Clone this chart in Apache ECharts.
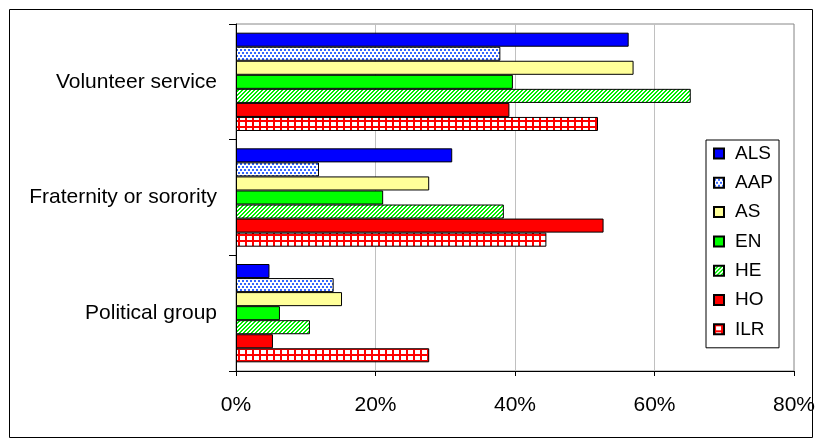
<!DOCTYPE html>
<html><head><meta charset="utf-8">
<script src="https://cdn.jsdelivr.net/npm/echarts@6/dist/echarts.min.js"></script>
<style>html,body{margin:0;padding:0;background:#fff}#c{width:818px;height:440px}</style>
</head><body><div id="c"></div>
<script>
const categories = ['Volunteer service', 'Fraternity or sorority', 'Political group'];
const seriesNames = ['ALS', 'AAP', 'AS', 'EN', 'HE', 'HO', 'ILR'];
const ALS = [56.3, 31.0, 4.8];
const AAP = [37.9, 11.9, 14.0];
const AS  = [57.0, 27.7, 15.2];
const EN  = [39.7, 21.1, 6.3];
const HE  = [65.2, 38.4, 10.6];
const HO  = [39.2, 52.7, 5.3];
const ILR = [51.9, 44.5, 27.7];
const xTicks = [0, 20, 40, 60, 80];
const values = [ALS, AAP, AS, EN, HE, HO, ILR];

function tile(w, h, draw) {
  const c = document.createElement('canvas');
  c.width = w; c.height = h;
  const ctx = c.getContext('2d');
  ctx.fillStyle = '#fff'; ctx.fillRect(0, 0, w, h);
  draw(ctx);
  return { image: c, repeat: 'repeat' };
}
const aapPat = tile(8, 6, ctx => {
  ctx.fillStyle = '#3366ff';
  ctx.fillRect(0, 1, 2, 2); ctx.fillRect(4, 1, 2, 2);
  ctx.fillRect(2, 4, 2, 2); ctx.fillRect(6, 4, 2, 2);
});
const hePat = tile(4, 4, ctx => {
  ctx.fillStyle = '#00ee00';
  for (let i = 0; i < 4; i++) {
    ctx.fillRect(i, 3 - i, 1, 1);
    ctx.fillRect((i + 1) % 4, 3 - i, 1, 1);
  }
});
const ilrPat = tile(7, 6, ctx => {
  ctx.fillStyle = '#ff0000';
  ctx.fillRect(0, 0, 7, 2);
  ctx.fillRect(0, 0, 2, 6);
});
const colors = ['#0000ff', aapPat, '#ffff99', '#00ff00', hePat, '#ff0000', ilrPat];

const font = 'Liberation Sans, Arial, sans-serif';
const chart = echarts.init(document.getElementById('c'), null, { renderer: 'canvas' });
chart.setOption({
  animation: false,
  backgroundColor: '#fff',
  textStyle: { fontFamily: font, color: '#000' },
  graphic: [{
    type: 'rect', left: 7, top: 7, z: -10,
    shape: { width: 803, height: 428 },
    style: { fill: 'none', stroke: '#000', lineWidth: 1 }
  }],
  grid: { left: 236, top: 24, width: 559, height: 347, show: true, borderColor: '#888', borderWidth: 1, backgroundColor: '#fff' },
  legend: {
    orient: 'vertical', left: 706, top: 140,
    data: seriesNames,
    backgroundColor: '#fff', borderColor: '#000', borderWidth: 1,
    padding: [4, 6, 9, 7],
    itemWidth: 10, itemHeight: 10, itemGap: 10.3,
    icon: 'rect',
    textStyle: { fontSize: 19, lineHeight: 19, fontFamily: font, color: '#000', padding: [0, 0, 0, 6] }
  },
  xAxis: {
    type: 'value', min: 0, max: 80, interval: 20,
    axisLine: { show: true, lineStyle: { color: '#000' } },
    axisTick: { show: true, length: 5, lineStyle: { color: '#000' } },
    splitLine: { show: true, lineStyle: { color: '#c0c0c0' } },
    axisLabel: { formatter: '{value}%', fontSize: 21, fontFamily: font, color: '#000', margin: 24 }
  },
  yAxis: {
    type: 'category', inverse: true, data: categories,
    axisLine: { show: true, lineStyle: { color: '#000' } },
    axisTick: { show: true, length: 7, lineStyle: { color: '#000' } },
    axisLabel: { fontSize: 21, fontFamily: font, color: '#000', margin: 19 }
  },
  series: seriesNames.map((n, i) => ({
    name: n, type: 'bar', data: values[i],
    barGap: '0%', barCategoryGap: '15%',
    itemStyle: { color: colors[i], borderColor: '#000', borderWidth: 1 }
  }))
});
</script></body></html>
